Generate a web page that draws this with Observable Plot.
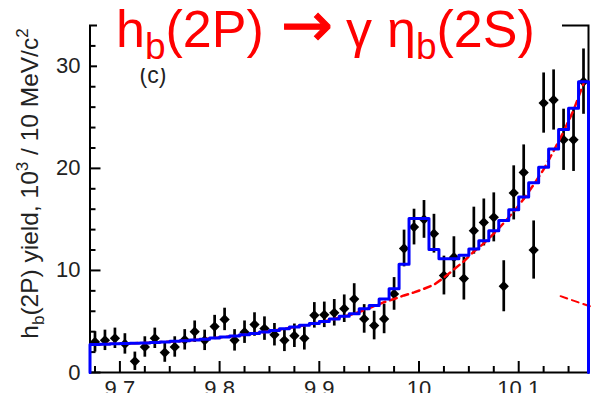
<!DOCTYPE html>
<html><head><meta charset="utf-8">
<script src="https://cdn.jsdelivr.net/npm/d3@7"></script>
<script src="https://cdn.jsdelivr.net/npm/@observablehq/plot@0.6"></script>
<style>body{margin:0;background:#fff}#chart{width:592px;height:393px;overflow:hidden}</style>
</head><body><div id="chart"></div>
<script>
// Bin centers (GeV/c^2), 10 MeV bins
const binCenters = [9.675,9.685,9.695,9.705,9.715,9.725,9.735,9.745,9.755,9.765,
  9.775,9.785,9.795,9.805,9.815,9.825,9.835,9.845,9.855,9.865,
  9.875,9.885,9.895,9.905,9.915,9.925,9.935,9.945,9.955,9.965,
  9.975,9.985,9.995,10.005,10.015,10.025,10.035,10.045,10.055,10.065,
  10.075,10.085,10.095,10.105,10.115,10.125,10.135,10.145,10.155,10.165];
// Data yield (10^3 per 10 MeV)
const counts = [3.0,3.15,3.35,2.8,1.1,2.5,3.35,1.95,2.5,3.2,
  4.0,3.15,4.5,5.2,3.15,3.95,4.7,4.3,3.7,3.15,
  3.6,3.35,5.6,5.65,5.85,6.25,7.2,5.25,4.6,5.25,
  7.7,12.15,14.25,15.0,13.6,9.5,11.3,9.2,13.9,14.7,
  15.2,8.45,17.6,19.6,12.0,26.4,26.7,22.8,22.8,28.5];
const errors = [1.0,1.0,1.0,1.0,0.9,1.0,1.0,0.95,1.0,1.0,
  1.05,1.0,1.1,1.1,1.05,1.1,1.15,1.15,1.1,1.1,
  1.15,1.15,1.25,1.25,1.3,1.35,1.5,1.4,1.4,1.45,
  1.6,1.8,1.75,1.85,1.9,1.9,2.0,2.1,2.3,2.3,
  2.4,2.5,2.65,2.7,2.85,2.95,2.95,3.0,3.1,3.2];
// Total fit (blue histogram)
const fitTotal = [2.75,2.78,2.81,2.84,2.87,2.9,2.95,3.0,3.05,3.1,
  3.18,3.27,3.37,3.47,3.58,3.7,3.83,3.97,4.12,4.28,
  4.45,4.62,4.8,5.0,5.25,5.5,5.75,6.24,6.57,7.2,
  8.2,10.6,15.1,15.1,12.06,11.15,11.15,11.5,12.1,12.9,
  13.9,14.9,15.95,17.2,18.6,20.1,21.9,23.8,25.9,28.5];
// Background (red dashed)
const fitBackground = [2.75,2.78,2.81,2.84,2.87,2.9,2.95,3.0,3.05,3.1,
  3.18,3.27,3.37,3.47,3.58,3.7,3.83,3.97,4.12,4.28,
  4.45,4.62,4.8,5.0,5.25,5.5,5.75,6.1,6.5,6.9,
  7.2,7.55,7.85,8.2,8.6,9.3,10.1,10.9,11.85,12.65,
  13.6,14.65,15.75,17.0,18.4,19.9,21.7,23.6,25.7,28.3];
const bgTailX = [10.142, 10.174];
const bgTailY = [7.48, 6.4];
const xMajorTicks = [9.7,9.8,9.9,10.0,10.1];
const xTickLabels = ["9.7","9.8","9.9","10","10.1"];
const xMinorTicks = [9.675,9.725,9.75,9.775,9.825,9.85,9.875,9.925,9.95,9.975,10.025,10.05,10.075,10.125,10.15];
const yMajorTicks = [0,10,20,30];
const yMinorTicks = [2,4,6,8,12,14,16,18,22,24,26,28,32];
const panelLabel = "(c)";

const pts = binCenters.map((x,i)=>({x, y: counts[i], e: errors[i]}));
const bg = binCenters.map((x,i)=>({x, y: fitBackground[i]}));
const half = 0.005;
const step = [{x: binCenters[0]-half, y: 0}]
  .concat(binCenters.map((x,i)=>({x: x-half, y: fitTotal[i]})))
  .concat([{x: binCenters[binCenters.length-1]+half, y: 0}]);
const tail = bgTailX.map((x,i)=>({x, y: bgTailY[i]}));

const W = 592, H = 393, mL = 89.5, mR = 4, mT = 25, mB = 21;
const FONT = "'Liberation Sans', Arial, Helvetica, sans-serif";

const svg = Plot.plot({
  width: W, height: H, marginLeft: mL, marginRight: mR, marginTop: mT, marginBottom: mB,
  x: {domain: [9.67, 10.17]},
  y: {domain: [0, 34]},
  style: {fontFamily: FONT, background: "white"},
  marks: [
    Plot.frame({stroke: "black", strokeWidth: 2}),
    Plot.tickX(xMajorTicks, {x: d=>d, insetTop: (H-mT-mB)-11, stroke: "black", strokeWidth: 2}),
    Plot.tickX(xMinorTicks, {x: d=>d, insetTop: (H-mT-mB)-6, stroke: "black", strokeWidth: 2}),
    Plot.tickY(yMajorTicks, {y: d=>d, insetRight: (W-mL-mR)-11, stroke: "black", strokeWidth: 2}),
    Plot.tickY(yMinorTicks, {y: d=>d, insetRight: (W-mL-mR)-6, stroke: "black", strokeWidth: 2}),
    Plot.axisX({ticks: xMajorTicks, tickSize: 0, tickPadding: 8, fontSize: 22, fill: "#222", label: null,
      tickFormat: d => xTickLabels[xMajorTicks.indexOf(d)]}),
    Plot.axisY({ticks: yMajorTicks, tickSize: 0, tickPadding: 9.5, fontSize: 22, fill: "#222", label: null}),
    Plot.text([panelLabel], {frameAnchor: "top-left", dx: 63, dy: 57, lineAnchor: "bottom", textAnchor: "middle", fontSize: 23, fill: "#222"}),
    Plot.ruleX(pts, {x: "x", y1: d=>d.y-d.e, y2: d=>d.y+d.e, stroke: "black", strokeWidth: 2.7}),
    Plot.dot(pts, {x: "x", y: "y", symbol: "square", r: 4.1, rotate: 45, fill: "black", stroke: "none"}),
    Plot.line(bg, {x: "x", y: "y", stroke: "#ff0000", strokeWidth: 2.5, strokeDasharray: "7,5"}),
    Plot.line(tail, {x: "x", y: "y", stroke: "#ff0000", strokeWidth: 2, strokeDasharray: "7,5", clip: false}),
    Plot.line(step, {x: "x", y: "y", curve: "step-after", stroke: "#0000ff", strokeWidth: 3})
  ]
});

const s = d3.select(svg);
// white title box
s.append("rect").attr("x", 97).attr("y", 0).attr("width", 465).attr("height", 68).attr("fill", "white");
const t = s.append("text").attr("x", 116).attr("y", 47).attr("text-anchor", "start")
  .attr("font-size", 52).attr("fill", "#ff0000").attr("font-family", FONT);
t.append("tspan").text("h");
t.append("tspan").attr("font-size", 37).attr("dy", 12).text("b");
t.append("tspan").attr("font-size", 52).attr("dy", -12).text("(2P)");
t.append("tspan").attr("x", 281).attr("y", 46).attr("font-size", 62)
  .attr("font-family", "'DejaVu Sans', sans-serif").attr("stroke", "#ff0000").attr("stroke-width", 1).text("\u2192");
t.append("tspan").attr("x", 346).attr("y", 47).attr("font-size", 52).text("\u03B3");
t.append("tspan").attr("x", 387).attr("font-size", 52).text("\u03B7");
t.append("tspan").attr("font-size", 37).attr("dy", 12).text("b");
t.append("tspan").attr("font-size", 52).attr("dy", -12).text("(2S)");

// y-axis label
const yl = s.append("text").attr("transform", "translate(38,183.5) rotate(-90)")
  .attr("text-anchor", "middle").attr("font-size", 24.5).attr("fill", "#222").attr("font-family", FONT);
yl.append("tspan").text("h");
yl.append("tspan").attr("font-size", 17).attr("dy", 6).text("b");
yl.append("tspan").attr("font-size", 24.5).attr("dy", -6).text("(2P) yield, 10");
yl.append("tspan").attr("font-size", 17).attr("dy", -10).text("3");
yl.append("tspan").attr("font-size", 24.5).attr("dy", 10).text(" / 10 MeV/c");
yl.append("tspan").attr("font-size", 17).attr("dy", -10).text("2");

document.getElementById("chart").appendChild(svg);
</script></body></html>
